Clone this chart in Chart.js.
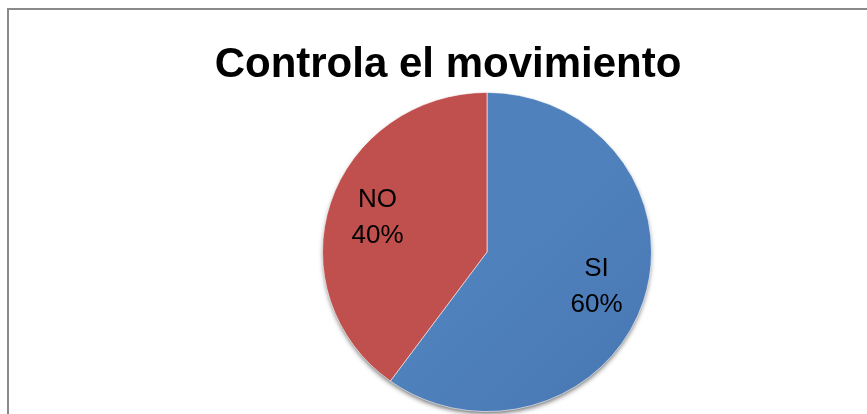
<!DOCTYPE html>
<html>
<head>
<meta charset="utf-8">
<script src="https://cdn.jsdelivr.net/npm/chart.js@4"></script>
<style>
    html, body { margin: 0; padding: 0; background: #fff; overflow: hidden; }
    #wrap { position: relative; width: 867px; height: 414px; }
</style>
</head>
<body>
<div id="wrap"><canvas id="pieChart" width="867" height="414"></canvas></div>
<script>
const chartTitle = "Controla el movimiento";
const categories = ["SI", "NO"];
const percentages = [60, 40];
const sliceColors = ["#4F81BD", "#C0504D"];
const sliceShades = ["#4877B2", "#B84A47"];

// slight tilt, the pie is a bit flatter than wide
const tiltY = 0.97;
const tiltShift = 3;

function sliceFill(context) {
    const chart = context.chart;
    const area = chart.chartArea;
    const i = context.dataIndex;

    if (!area) {
        return sliceColors[i];
    }

    const grad = chart.ctx.createLinearGradient(area.left, area.top, area.right, area.bottom);
    grad.addColorStop(0, sliceColors[i]);
    grad.addColorStop(0.55, sliceColors[i]);
    grad.addColorStop(1, sliceShades[i]);
    return grad;
}

function applyTilt(chart) {
    const arc = chart.getDatasetMeta(0).data[0];
    const ctx = chart.ctx;
    if (!arc) return;
    ctx.translate(0, arc.y + tiltShift);
    ctx.scale(1, tiltY);
    ctx.translate(0, -arc.y);
}

const frameAndTitle = {
    id: "frameAndTitle",
    beforeDraw(chart) {
        const ctx = chart.ctx;
        ctx.save();
        ctx.strokeStyle = "#8a8a8a";
        ctx.lineWidth = 2;
        ctx.strokeRect(8, 9, 1000, 1000);
        ctx.restore();
    },
    afterDraw(chart) {
        const ctx = chart.ctx;
        ctx.save();
        ctx.font = "bold 42px 'Liberation Sans', Arial, sans-serif";
        ctx.fillStyle = "#000";
        ctx.textAlign = "center";
        ctx.textBaseline = "alphabetic";
        ctx.fillText(chartTitle, 448, 77);
        ctx.restore();
    }
};

const pieShadow = {
    id: "pieShadow",
    beforeDatasetsDraw(chart) {
        const arc = chart.getDatasetMeta(0).data[0];
        if (!arc) return;
        const ctx = chart.ctx;
        // left open, restored in sliceLabels
        ctx.save();
        applyTilt(chart);
        ctx.save();
        ctx.shadowColor = "rgba(0,0,0,0.6)";
        ctx.shadowBlur = 5;
        ctx.shadowOffsetY = 3;
        ctx.fillStyle = "#2f4f78";
        ctx.beginPath();
        ctx.arc(arc.x, arc.y, arc.outerRadius - 1, 0, Math.PI * 2);
        ctx.fill();
        ctx.restore();
    }
};

const sliceLabels = {
    id: "sliceLabels",
    afterDatasetsDraw(chart) {
        const ctx = chart.ctx;
        ctx.restore();

        const meta = chart.getDatasetMeta(0);
        ctx.save();
        ctx.font = "26px 'Liberation Sans', Arial, sans-serif";
        ctx.fillStyle = "#000";
        ctx.textAlign = "center";
        ctx.textBaseline = "middle";
        meta.data.forEach((arc, i) => {
            const mid = (arc.startAngle + arc.endAngle) / 2;
            const r = arc.outerRadius * 0.7;
            const x = arc.x + Math.cos(mid) * r;
            const y = arc.y + tiltShift + Math.sin(mid) * r * tiltY;
            ctx.fillText(categories[i], x, y - 18);
            ctx.fillText(percentages[i] + "%", x, y + 18);
        });
        ctx.restore();
    }
};

new Chart(document.getElementById("pieChart"), {
    type: "pie",
    data: {
        labels: categories,
        datasets: [{
            data: percentages,
            backgroundColor: sliceFill,
            borderColor: "rgba(255,255,255,0.6)",
            borderWidth: 1
        }]
    },
    options: {
        responsive: false,
        animation: false,
        layout: {
            padding: { top: 84, bottom: 0, left: 322, right: 215 }
        },
        plugins: {
            legend: { display: false },
            title: { display: false },
            tooltip: { enabled: false }
        }
    },
    plugins: [frameAndTitle, pieShadow, sliceLabels]
});
</script>
</body>
</html>
